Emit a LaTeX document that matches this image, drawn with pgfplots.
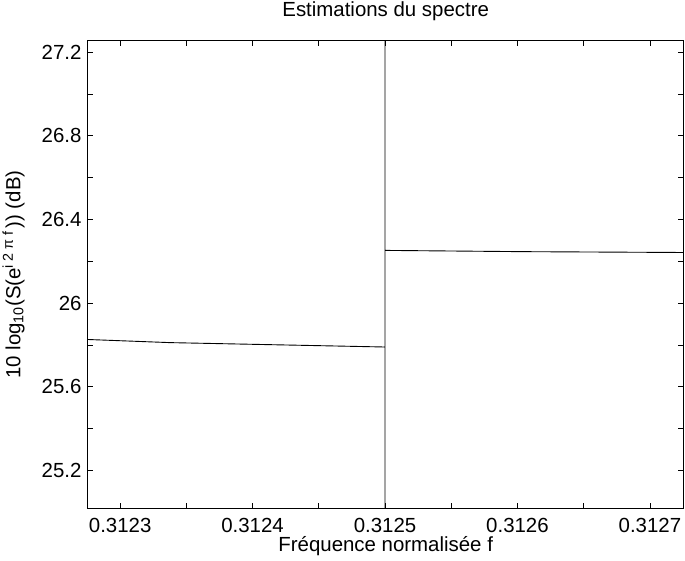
\documentclass[border=0pt]{standalone}
\usepackage{fontspec}
\setmainfont{Liberation Sans}
\usepackage{pgfplots}
\pgfplotsset{compat=1.18}
\begin{document}
\begin{tikzpicture}
\path[use as bounding box] (-87.7bp,-52bp) rectangle (597.3bp,508.7bp);
\begin{axis}[
  scale only axis,
  width=596bp, height=468bp,
  at={(0,0)}, anchor=south west,
  xmin=0.3122755, xmax=0.3127255,
  ymin=25.017, ymax=27.255,
  xtick={0.3123,0.31235,0.3124,0.31245,0.3125,0.31255,0.3126,0.31265,0.3127},
  xticklabels={0.3123,,0.3124,,0.3125,,0.3126,,0.3127},
  ytick={25.2,25.4,25.6,25.8,26,26.2,26.4,26.6,26.8,27,27.2},
  yticklabels={25.2,,25.6,,26,,26.4,,26.8,,27.2},
  tick align=inside,
  major tick length=5.5bp,
  tick style={black, line width=0.8bp},
  axis line style={black, line width=0.8bp},
  /pgf/number format/assume math mode=true,
  tick label style={font=\fontsize{20.5}{24}\selectfont},
  xticklabel style={anchor=base, yshift=-24.3bp},
  yticklabel style={anchor=east, inner sep=0pt, xshift=-6bp},
  label style={font=\fontsize{20.5}{24}\selectfont},
  title style={font=\fontsize{20.5}{24}\selectfont, at={(0.5,1)}, anchor=base, yshift=17.7bp},
  title={Estimations du spectre},
  xlabel={Fréquence normalisée f},
  xlabel style={at={(0.5,0)}, anchor=base, yshift=-42.7bp},
  ylabel={10 log\textsubscript{10}(S(e\textsuperscript{i 2 π f\,})) (dB)},
  ylabel style={at={(0,0.5)}, anchor=south, inner sep=0pt, yshift=63bp},
  clip=true,
]
\addplot[black, line width=0.9bp] coordinates {
  (0.3122755,25.826)
  (0.3123377,25.811)
  (0.3125,25.790)
  (0.3125,40)
  (0.3125,10)
  (0.3125,26.252)
  (0.312604,26.246)
  (0.3127255,26.242)
};
\end{axis}
\end{tikzpicture}
\end{document}
